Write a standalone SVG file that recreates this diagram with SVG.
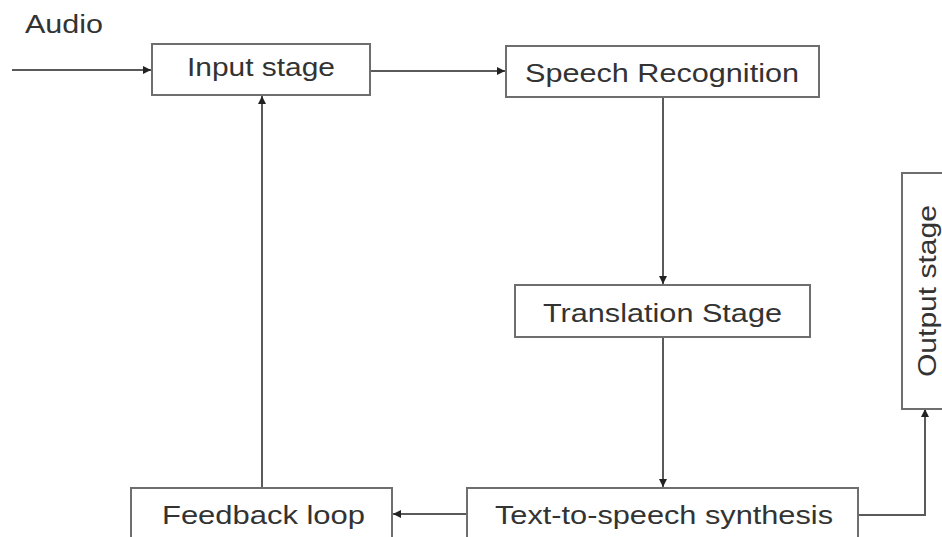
<svg xmlns="http://www.w3.org/2000/svg" width="942" height="537" viewBox="0 0 942 537">
<style>
.box{fill:#fff;stroke:#6e6e6e;stroke-width:2}
.lbl{font-family:"Liberation Sans",Arial,sans-serif;font-size:26px;fill:#333}
.conn{fill:none;stroke:#5a5a5a;stroke-width:2}
</style>
<defs>
<marker id="ah" viewBox="0 0 8 8" refX="8" refY="4" markerWidth="4" markerHeight="4" orient="auto" markerUnits="strokeWidth">
<path d="M0,0 L8,4 L0,8 z" fill="#222"/>
</marker>
</defs>
<rect width="942" height="537" fill="#fff"/>
<text class="lbl" x="25" y="33" textLength="78" lengthAdjust="spacingAndGlyphs">Audio</text>
<g id="connectors">
<path class="conn" d="M12,70 H151" marker-end="url(#ah)"/>
<path class="conn" d="M370,71 H505" marker-end="url(#ah)"/>
<path class="conn" d="M663,97 V284" marker-end="url(#ah)"/>
<path class="conn" d="M663,337 V487" marker-end="url(#ah)"/>
<path class="conn" d="M467,514 H393" marker-end="url(#ah)"/>
<path class="conn" d="M262,488 V96" marker-end="url(#ah)"/>
<path class="conn" d="M858,515 H925 V409" marker-end="url(#ah)"/>
</g>
<g id="input">
<rect class="box" x="152" y="44" width="218" height="51"/>
<text class="lbl" x="187" y="76" textLength="148" lengthAdjust="spacingAndGlyphs">Input stage</text>
</g>
<g id="speech">
<rect class="box" x="506" y="46" width="313" height="51"/>
<text class="lbl" x="525" y="82" textLength="274" lengthAdjust="spacingAndGlyphs">Speech Recognition</text>
</g>
<g id="translation">
<rect class="box" x="515" y="285" width="295" height="52"/>
<text class="lbl" x="543" y="322" textLength="239" lengthAdjust="spacingAndGlyphs">Translation Stage</text>
</g>
<g id="tts">
<rect class="box" x="467" y="488" width="391" height="60"/>
<text class="lbl" x="495" y="524" textLength="338" lengthAdjust="spacingAndGlyphs">Text-to-speech synthesis</text>
</g>
<g id="feedback">
<rect class="box" x="131" y="488" width="261" height="60"/>
<text class="lbl" x="162" y="524" textLength="203" lengthAdjust="spacingAndGlyphs">Feedback loop</text>
</g>
<g id="output">
<rect class="box" x="902" y="173" width="60" height="236"/>
<text class="lbl" transform="translate(936,377) rotate(-90)" x="0" y="0" textLength="172" lengthAdjust="spacingAndGlyphs">Output stage</text>
</g>
</svg>
